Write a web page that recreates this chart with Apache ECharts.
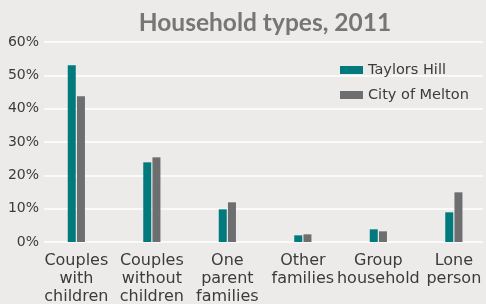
<!DOCTYPE html>
<html>
<head>
    <meta charset="utf-8">
    <title>Household types, 2011</title>
    <script src="https://cdn.jsdelivr.net/npm/echarts@6/dist/echarts.min.js"></script>
    <style>
        html, body { margin: 0; padding: 0; background: #ecebe9; }
        #chart { width: 486px; height: 304px; }
    </style>
</head>
<body>
    <div id="chart"></div>
    <script>
    // household types, share of households (%)
    var categories = ["Couples\nwith\nchildren", "Couples\nwithout\nchildren", "One\nparent\nfamilies", "Other\nfamilies", "Group\nhousehold", "Lone\nperson"];
    var taylorsHill = [53.0, 23.9, 9.8, 2.0, 3.8, 8.9];
    var cityOfMelton = [43.7, 25.4, 11.9, 2.3, 3.2, 14.9];
    var yTicks = [0, 10, 20, 30, 40, 50, 60];

    var font = "DejaVu Sans";
    var chart = echarts.init(document.getElementById("chart"), null, { renderer: "canvas" });

    chart.setOption({
        backgroundColor: "#ecebe9",
        animation: false,
        title: {
            text: "Household types, 2011",
            left: 260,
            top: 6,
            textAlign: "center",
            textStyle: { fontFamily: "Lato", fontWeight: "bold", fontSize: 24.5, color: "#767676" }
        },
        legend: {
            orient: "vertical",
            left: 340,
            top: 62,
            padding: 0,
            itemWidth: 23,
            itemHeight: 8,
            itemGap: 9,
            icon: "rect",
            textStyle: { fontFamily: font, fontSize: 14.5, color: "#3b3b3b", lineHeight: 16 },
            data: ["Taylors Hill", "City of Melton"]
        },
        grid: [
            { left: 44, right: 3, top: 42, bottom: 62, outerBoundsMode: "none" },
            { left: 38.6, width: 453, top: 42, bottom: 62, outerBoundsMode: "none" }
        ],
        xAxis: [
            { type: "category", gridIndex: 0, data: categories, show: false },
            {
                type: "category", gridIndex: 1, data: categories,
                axisLine: { show: false }, axisTick: { show: false },
                axisLabel: { interval: 0, margin: 10, fontFamily: font, fontSize: 16, lineHeight: 18, color: "#3b3b3b" }
            }
        ],
        yAxis: [
            {
                type: "value", gridIndex: 0, min: yTicks[0], max: yTicks[yTicks.length - 1], interval: 10,
                axisLine: { show: false }, axisTick: { show: false },
                axisLabel: { formatter: "{value}%", margin: 5, fontFamily: font, fontSize: 14, color: "#3b3b3b" },
                splitLine: { lineStyle: { color: "#ffffff", width: 1.5 } }
            },
            { type: "value", gridIndex: 1, min: yTicks[0], max: yTicks[yTicks.length - 1], show: false }
        ],
        series: [{
            name: "Taylors Hill",
            type: "bar",
            xAxisIndex: 1,
            yAxisIndex: 1,
            barWidth: 8,
            barGap: "15%",
            itemStyle: { color: "#007a7c" },
            data: taylorsHill
        }, {
            name: "City of Melton",
            type: "bar",
            xAxisIndex: 1,
            yAxisIndex: 1,
            barWidth: 8,
            barGap: "15%",
            itemStyle: { color: "#6d6e70" },
            data: cityOfMelton
        }]
    });
    </script>
</body>
</html>
